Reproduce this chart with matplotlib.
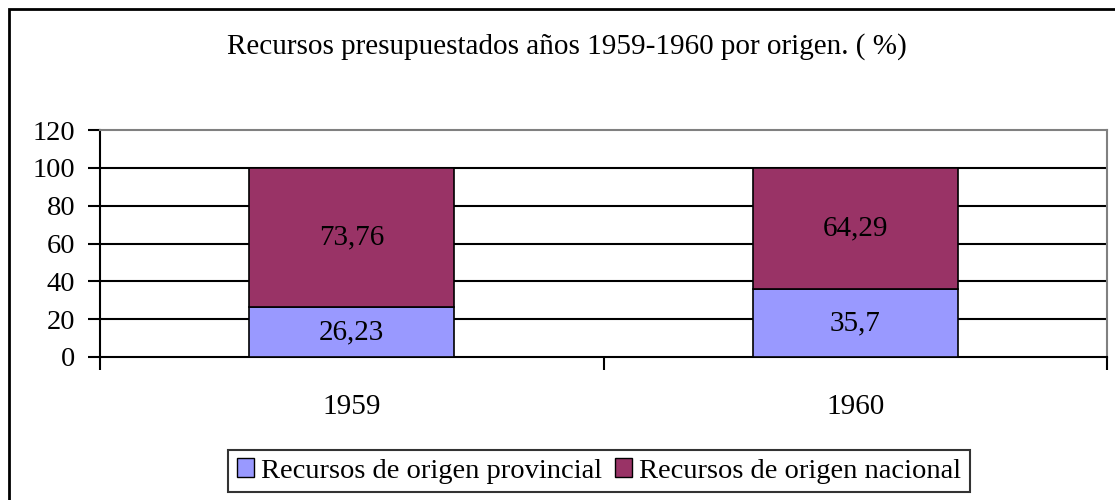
import matplotlib.pyplot as plt
from matplotlib.patches import Rectangle

years = ['1959', '1960']
provincial = [26.23, 35.7]
nacional = [73.76, 64.29]
prov_labels = ['26,23', '35,7']
nac_labels = ['73,76', '64,29']
yticks = [0, 20, 40, 60, 80, 100, 120]

plt.rcParams['font.family'] = ['Liberation Serif', 'DejaVu Serif']

W, H = 1115, 500
fig = plt.figure(figsize=(W / 100, H / 100), dpi=100)

# marco exterior
fig.patches.append(Rectangle((9 / W, -0.05), 1.2, 1 - 9 / H + 0.05, transform=fig.transFigure,
                             fill=False, edgecolor='black', linewidth=2))

ax = fig.add_axes([100 / W, (H - 357) / H, (1107 - 100) / W, (357 - 130) / H])

x = range(len(years))
w = 0.407
ax.bar(x, provincial, w, color='#9999FF', edgecolor='black', linewidth=1.2, zorder=3)
ax.bar(x, nacional, w, bottom=provincial, color='#993366', edgecolor='black', linewidth=1.2, zorder=3)

for i in x:
    ax.text(i, provincial[i] / 2, prov_labels[i], ha='center', va='center', fontsize=21, zorder=4)
    ax.text(i, provincial[i] + nacional[i] / 2, nac_labels[i], ha='center', va='center', fontsize=21, zorder=4)

ax.set_xlim(-0.5, 1.5)
ax.set_ylim(0, 120)
ax.set_yticks(yticks)
ax.tick_params(axis='y', labelsize=20.5, direction='out', length=9, width=1.5, pad=9)

ax.set_xticks(list(x))
ax.set_xticklabels(years)
ax.set_xticks([-0.5, 0.5, 1.5], minor=True)
ax.tick_params(axis='x', which='major', length=0, labelsize=21, pad=27)
ax.tick_params(axis='x', which='minor', direction='out', length=9, width=1.5)

for v in yticks[1:-1]:
    ax.axhline(v, color='black', linewidth=1.5, zorder=1)

ax.spines['left'].set_linewidth(1.5)
ax.spines['bottom'].set_linewidth(1.5)
ax.spines['top'].set_color('#808080')
ax.spines['right'].set_color('#808080')
ax.spines['top'].set_linewidth(1.5)
ax.spines['right'].set_linewidth(1.5)

fig.text(567 / W, 1 - 47 / H, 'Recursos presupuestados años 1959-1960 por origen. ( %)',
         ha='center', va='center', fontsize=21)

handles = [Rectangle((0, 0), 1, 1, facecolor='#9999FF', edgecolor='black'),
           Rectangle((0, 0), 1, 1, facecolor='#993366', edgecolor='black')]
leg = fig.legend(handles, ['Recursos de origen provincial', 'Recursos de origen nacional'],
                 loc='center', bbox_to_anchor=(599 / W, 1 - 471 / H), ncol=2, fontsize=20.5,
                 frameon=True, fancybox=False, edgecolor='black', handlelength=0.6,
                 handleheight=0.6, handletextpad=0.25, columnspacing=0.45, borderpad=0.3,
                 borderaxespad=0)
leg.get_frame().set_linewidth(1.5)

fig.savefig('out.png', dpi=100)
